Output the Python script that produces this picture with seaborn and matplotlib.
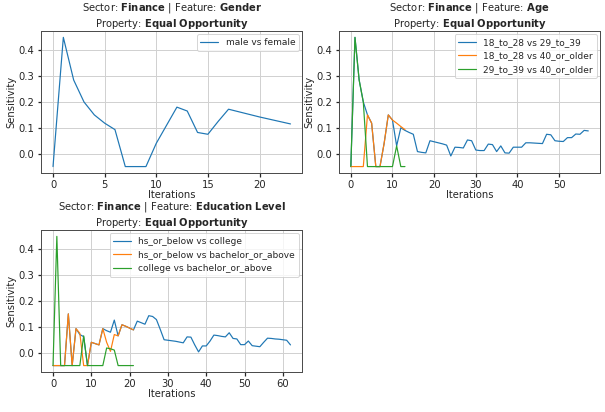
import numpy as np
import matplotlib
matplotlib.use("Agg")
import matplotlib.pyplot as plt
import seaborn as sns

# sensitivity per iteration
gender_labels = ["male vs female"]
gender_male_female = [-0.05, 0.45, 0.285, 0.2, 0.15, 0.118, 0.093, -0.05, -0.05, -0.05,
                      0.04, 0.11, 0.18, 0.165, 0.082, 0.075, 0.125, 0.172, 0.162, 0.152,
                      0.142, 0.133, 0.124, 0.115]

age_labels = ["18_to_28 vs 29_to_39", "18_to_28 vs 40_or_older", "29_to_39 vs 40_or_older"]
age_18_29 = [-0.05, 0.45, 0.285, 0.2, 0.15, 0.118, -0.05, -0.05, 0.04, 0.15,
             0.13, 0.03, 0.1, 0.09, 0.082, 0.075, 0.008, 0.005, 0.003, 0.05,
             0.046, 0.042, 0.038, 0.033, -0.009, 0.025, 0.024, 0.022, 0.053, 0.05,
             0.014, 0.012, 0.012, 0.037, 0.035, 0.008, 0.03, 0.003, 0.002, 0.025,
             0.025, 0.025, 0.042, 0.042, 0.041, 0.04, 0.039, 0.075, 0.073, 0.05,
             0.048, 0.047, 0.062, 0.062, 0.076, 0.075, 0.09, 0.088]
age_18_40 = [-0.05, -0.05, -0.05, -0.05, 0.15, 0.118, -0.05, -0.05, 0.04, 0.15,
             0.13, 0.118, 0.105, 0.093]
age_29_40 = [-0.05, 0.45, 0.285, 0.2, -0.05, -0.05, -0.05, -0.05, -0.05, -0.05,
             -0.05, 0.03, -0.05, -0.05]

edu_labels = ["hs_or_below vs college", "hs_or_below vs bachelor_or_above",
              "college vs bachelor_or_above"]
edu_hs_college = [-0.05, -0.05, -0.05, -0.05, 0.15, -0.05, 0.093, 0.07, 0.062, -0.05,
                  0.04, 0.035, 0.03, 0.093, 0.085, 0.079, 0.126, 0.065, 0.108, 0.102,
                  0.095, 0.088, 0.122, 0.116, 0.11, 0.143, 0.14, 0.128, 0.09, 0.05,
                  0.048, 0.046, 0.044, 0.041, 0.038, 0.061, 0.06, 0.03, 0.003, 0.026,
                  0.026, 0.045, 0.068, 0.066, 0.063, 0.061, 0.077, 0.055, 0.053, 0.031,
                  0.031, 0.045, 0.027, 0.025, 0.023, 0.04, 0.056, 0.055, 0.053, 0.052,
                  0.05, 0.048, 0.03]
edu_hs_bachelor = [-0.05, -0.05, -0.05, -0.05, 0.15, -0.05, 0.093, 0.075, -0.05, -0.05,
                   0.04, 0.035, 0.03, 0.093, 0.04, 0.005, 0.07, 0.065, 0.108, 0.102,
                   0.095, 0.088]
edu_college_bachelor = [-0.05, 0.45, -0.05, -0.05, -0.05, -0.05, -0.05, -0.05, 0.065, -0.05,
                        -0.05, -0.05, -0.05, -0.05, 0.018, 0.015, 0.01, -0.05, -0.05, -0.05,
                        -0.05, -0.05]

panels = [
    ("Gender", gender_labels, [gender_male_female]),
    ("Age", age_labels, [age_18_29, age_18_40, age_29_40]),
    ("Education\\ Level", edu_labels, [edu_hs_college, edu_hs_bachelor, edu_college_bachelor]),
]

sns.set_theme(style="whitegrid", rc={
    "axes.edgecolor": "0.3",
    "axes.linewidth": 1.0,
    "grid.color": "0.82",
    "grid.linewidth": 1.0,
    "xtick.bottom": True,
    "ytick.left": True,
    "xtick.major.size": 3.5,
    "ytick.major.size": 3.5,
    "xtick.color": "0.15",
    "ytick.color": "0.15",
    "font.size": 10,
    "axes.titlesize": 10,
    "axes.labelsize": 10,
    "xtick.labelsize": 10,
    "ytick.labelsize": 10,
    "legend.fontsize": 9,
})
plt.rcParams["font.family"] = ["DejaVu Sans"]

fig, axes = plt.subplots(2, 2, figsize=(605 / 72, 412 / 72), dpi=72)
fig.subplots_adjust(left=0.068, right=0.992, top=0.925, bottom=0.097, wspace=0.14, hspace=0.40)
palette = sns.color_palette("tab10")

for ax, (feature, labels, series) in zip(axes.flat, panels):
    for i, (label, values) in enumerate(zip(labels, series)):
        sns.lineplot(x=np.arange(len(values)), y=values, label=label, ax=ax,
                     color=palette[i], linewidth=1.2)
    ax.set_title("Sector: $\\bf{Finance}$ | Feature: $\\bf{" + feature + "}$\n"
                 "Property: $\\bf{Equal\\ Opportunity}$", linespacing=1.15, pad=3)
    ax.set_xlabel("Iterations", labelpad=0)
    ax.set_ylabel("Sensitivity", labelpad=2)
    ax.set_yticks([0.0, 0.1, 0.2, 0.3, 0.4])
    ax.legend(loc="upper right", frameon=True, borderaxespad=0.4)

axes[1, 1].axis("off")

plt.savefig("out.png", dpi=72)
plt.close("all")
